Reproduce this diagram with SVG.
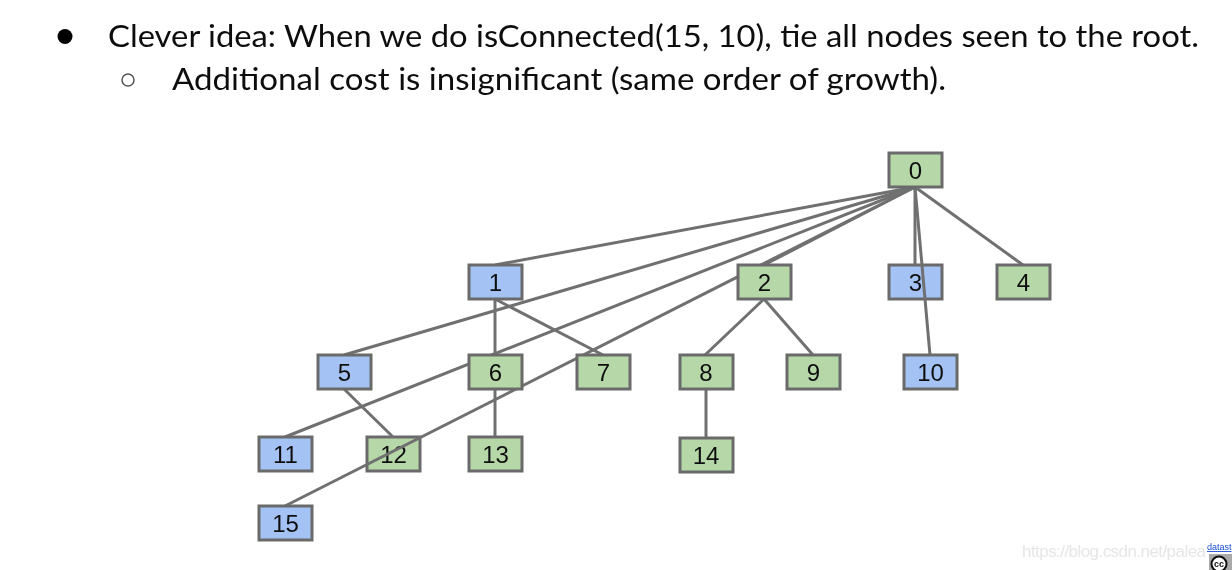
<svg xmlns="http://www.w3.org/2000/svg" width="1232" height="570" viewBox="0 0 1232 570">
<style>
.h{font-family:"Lato","Open Sans",sans-serif;font-size:31px;fill:#111}
.n rect{stroke:#6b6b6b;stroke-width:3}
.n text{font-family:"Liberation Sans",Arial,sans-serif;font-size:24px;fill:#111;text-anchor:middle}
.b rect{fill:#a4c2f4}
.g rect{fill:#b6d7a8}
#connectors line{stroke:#707070;stroke-width:3}
</style>
<defs><filter id="soft" x="0" y="0" width="100%" height="100%"><feGaussianBlur stdDeviation="0.4"/></filter></defs>
<rect width="1232" height="570" fill="#fff"/>
<g filter="url(#soft)">
<circle cx="65" cy="36.5" r="7.5" fill="#000"/>
<circle cx="128" cy="80" r="6" fill="none" stroke="#555" stroke-width="1.5"/>
<text class="h" x="108" y="46.5" textLength="1091" lengthAdjust="spacingAndGlyphs">Clever idea: When we do isConnected(15, 10), tie all nodes seen to the root.</text>
<text class="h" x="172" y="89.5" textLength="774" lengthAdjust="spacingAndGlyphs">Additional cost is insignificant (same order of growth).</text>
<g id="node-3" class="n b"><rect x="889" y="265" width="53" height="34"/><text x="915.5" y="291">3</text></g>
<g id="node-12" class="n g"><rect x="367" y="437" width="53" height="34"/><text x="393.5" y="463">12</text></g>
<g id="connectors">
<line x1="915" y1="187" x2="495" y2="265"/>
<line x1="915" y1="187" x2="344" y2="355"/>
<line x1="915" y1="187" x2="285" y2="437"/>
<line x1="915" y1="187" x2="764" y2="265"/>
<line x1="915" y1="187" x2="285" y2="506"/>
<line x1="915" y1="187" x2="915" y2="265"/>
<line x1="915" y1="187" x2="930" y2="355"/>
<line x1="915" y1="187" x2="1023" y2="265"/>
<line x1="495" y1="299" x2="495" y2="355"/>
<line x1="495" y1="299" x2="603" y2="355"/>
<line x1="764" y1="299" x2="705" y2="355"/>
<line x1="764" y1="299" x2="813" y2="355"/>
<line x1="344" y1="389" x2="393" y2="437"/>
<line x1="495" y1="389" x2="495" y2="437"/>
<line x1="706" y1="389" x2="706" y2="438"/>
</g>
<g id="node-0" class="n g"><rect x="889" y="153" width="53" height="34"/><text x="915.5" y="179">0</text></g>
<g id="node-1" class="n b"><rect x="469" y="265" width="53" height="34"/><text x="495.5" y="291">1</text></g>
<g id="node-2" class="n g"><rect x="738" y="265" width="53" height="34"/><text x="764.5" y="291">2</text></g>
<g id="node-4" class="n g"><rect x="997" y="265" width="53" height="34"/><text x="1023.5" y="291">4</text></g>
<g id="node-5" class="n b"><rect x="318" y="355" width="53" height="34"/><text x="344.5" y="381">5</text></g>
<g id="node-6" class="n g"><rect x="469" y="355" width="53" height="34"/><text x="495.5" y="381">6</text></g>
<g id="node-7" class="n g"><rect x="577" y="355" width="53" height="34"/><text x="603.5" y="381">7</text></g>
<g id="node-8" class="n g"><rect x="680" y="355" width="53" height="34"/><text x="706" y="381">8</text></g>
<g id="node-9" class="n g"><rect x="787" y="355" width="53" height="34"/><text x="813.5" y="381">9</text></g>
<g id="node-10" class="n b"><rect x="904" y="355" width="53" height="34"/><text x="930.5" y="381">10</text></g>
<g id="node-11" class="n b"><rect x="259" y="437" width="53" height="34"/><text x="285.5" y="463">11</text></g>
<g id="node-13" class="n g"><rect x="469" y="437" width="53" height="34"/><text x="495.5" y="463">13</text></g>
<g id="node-14" class="n g"><rect x="680" y="438" width="53" height="34"/><text x="706" y="464">14</text></g>
<g id="node-15" class="n b"><rect x="259" y="506" width="53" height="34"/><text x="285.5" y="532">15</text></g>
<text x="1022" y="557" font-family="Liberation Sans,Arial,sans-serif" font-size="17" fill="#e6e6e6" textLength="184">https://blog.csdn.net/palea</text>
<text x="1207" y="550" font-family="Liberation Sans,Arial,sans-serif" font-size="9" fill="#1a4fd0" text-decoration="underline">datast</text>
<rect x="1209" y="554" width="23" height="16" fill="#aaa"/>
<circle cx="1219" cy="564" r="7.5" fill="#fff" stroke="#111" stroke-width="2"/>
<text x="1219" y="567" font-family="Liberation Sans,Arial,sans-serif" font-size="9" font-weight="bold" fill="#111" text-anchor="middle">cc</text>
</g>
</svg>
